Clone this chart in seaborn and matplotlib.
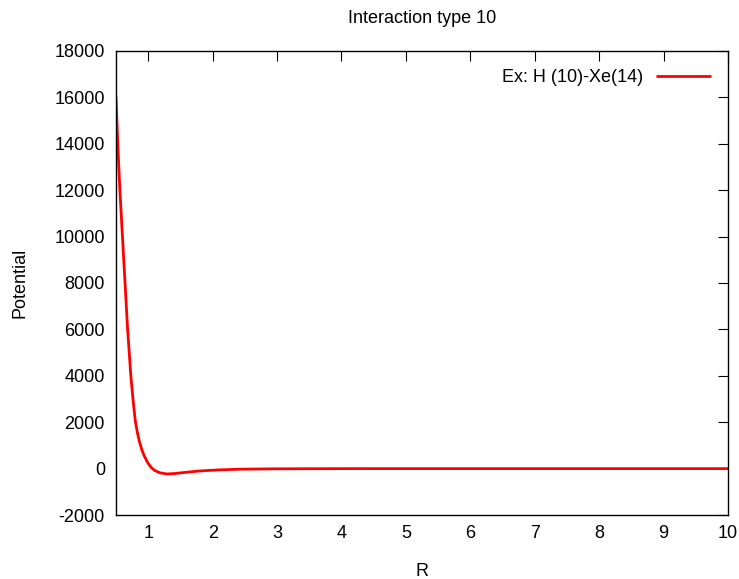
import seaborn as sns
import pandas as pd
import matplotlib
matplotlib.use("Agg")
import matplotlib.pyplot as plt

# Values
r_values = [0.50, 0.52, 0.54, 0.56, 0.58, 0.60, 0.62, 0.64, 0.66, 0.68,
            0.70, 0.73, 0.76, 0.78, 0.80, 0.83, 0.86, 0.90, 0.93, 0.97,
            1.00, 1.05, 1.10, 1.18, 1.29, 1.40, 1.55, 1.80, 2.10, 2.42,
            3.00, 4.00, 5.00, 7.00, 10.00]
potential = [16000, 14500, 13200, 12000, 11000, 10000, 9000, 8000, 7000, 6000,
             5200, 4000, 3100, 2550, 2050, 1580, 1200, 820, 600, 370,
             220, 40, -80, -180, -230, -215, -170, -100, -55, -25,
             -8, -1, 0, 0, 0]
series_label = "Ex: H (10)-Xe(14)"
x_ticks = [1, 2, 3, 4, 5, 6, 7, 8, 9, 10]
y_ticks = [-2000, 0, 2000, 4000, 6000, 8000, 10000, 12000, 14000, 16000, 18000]

sns.set_style("white")
plt.rcParams["font.family"] = ["Liberation Sans", "DejaVu Sans"]
plt.rcParams["axes.unicode_minus"] = False
plt.rcParams["text.color"] = "black"
plt.rcParams["axes.labelcolor"] = "black"
plt.rcParams["xtick.color"] = "black"
plt.rcParams["ytick.color"] = "black"

df = pd.DataFrame({"R": r_values, "Potential": potential})

fig = plt.figure(figsize=(7.39, 5.79), dpi=100)
ax = fig.add_axes([0.157, 0.1105, 0.828, 0.8015])

sns.lineplot(data=df, x="R", y="Potential", color="#ff0000", linewidth=2.0,
             label=series_label, ax=ax)

ax.set_xlim(0.5, 10)
ax.set_ylim(-2000, 18000)
ax.set_xticks(x_ticks)
ax.set_yticks(y_ticks)

ax.tick_params(direction="in", length=7, width=0.8, top=True, right=True,
               labelsize=13, color="black")
ax.tick_params(axis="y", pad=8)
ax.tick_params(axis="x", pad=7)
for s in ax.spines.values():
    s.set_color("black")
    s.set_linewidth(1.0)

ax.set_title("Interaction type 10", fontsize=13, pad=20)
ax.set_xlabel("R", fontsize=13, labelpad=15)
ax.set_ylabel("Potential", fontsize=13, labelpad=19)

ax.legend(loc="upper right", frameon=False, markerfirst=False, fontsize=13,
          handlelength=2.9, borderaxespad=0.6)

fig.savefig("out.png", dpi=100)
